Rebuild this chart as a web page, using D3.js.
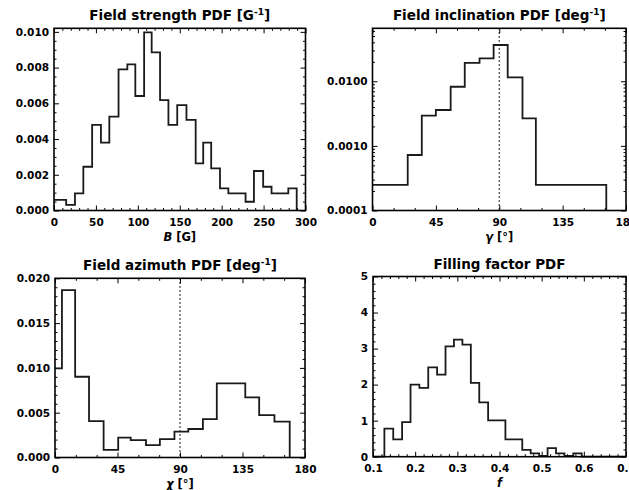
<!DOCTYPE html>
<html>
<head>
<meta charset="utf-8">
<script src="https://cdn.jsdelivr.net/npm/d3@7"></script>
<style>
  html, body { margin: 0; padding: 0; background: #fff; }
  svg { display: block; }
</style>
</head>
<body>
<script>
// ---- Field strength PDF (bin edges in G, density in G^-1)
const strengthEdges = [0, 14.5, 25, 35, 45.5, 56, 66, 77, 87.5, 97, 107.5, 116.5, 126.5, 136.5, 147,
  158, 169, 178, 187.5, 198, 208, 218.5, 228.5, 238.5, 249.5, 259.5, 269.5, 279.5, 289.5];
const strengthPdf = [0.00059, 0.00031, 0.00096, 0.00245, 0.00479, 0.0038, 0.00525, 0.0079, 0.00818, 0.00641,
  0.00997, 0.00885, 0.00618, 0.00479, 0.0059, 0.00507, 0.00264, 0.0038, 0.00236, 0.00124,
  0.00096, 0.00096, 0.00049, 0.00221, 0.00133, 0.00096, 0.00096, 0.00124];
const strengthXTicks = [0, 50, 100, 150, 200, 250, 300];
const strengthYTicks = [0, 0.002, 0.004, 0.006, 0.008, 0.010];

// ---- Field inclination PDF (bin edges in deg, density in deg^-1, log axis)
const inclinationEdges = [0, 25, 35, 45, 55.5, 65.5, 76, 86, 96, 106.5, 116, 166];
const inclinationPdf = [0.000249, 0.000723, 0.00293, 0.00359, 0.00822, 0.0193, 0.0226, 0.0364, 0.0115, 0.00267, 0.000249];
const inclinationXTicks = [0, 45, 90, 135, 180];
const inclinationYTicks = [0.0001, 0.001, 0.01];

// ---- Field azimuth PDF (bin edges in deg, density in deg^-1)
const azimuthEdges = [0, 5, 14.5, 24.5, 35, 45.5, 54.5, 65.5, 75.5, 86, 96, 106.5, 116.5, 126.5, 137, 147, 158, 169];
const azimuthPdf = [0.00994, 0.01868, 0.00901, 0.00407, 0.00084, 0.00221, 0.00195, 0.00139, 0.00206, 0.00288,
  0.00318, 0.00429, 0.00827, 0.00827, 0.00671, 0.00474, 0.004];
const azimuthXTicks = [0, 45, 90, 135, 180];
const azimuthYTicks = [0, 0.005, 0.010, 0.015, 0.020];

// ---- Filling factor PDF
const fillingEdges = [0.1, 0.127, 0.148, 0.169, 0.189, 0.21, 0.231, 0.252, 0.272, 0.292, 0.312, 0.332, 0.352,
  0.373, 0.393, 0.414, 0.434, 0.454, 0.474, 0.494, 0.514, 0.534, 0.554, 0.575, 0.595, 0.7];
const fillingPdf = [0, 0.78, 0.48, 0.96, 2.0, 1.91, 2.48, 2.28, 3.06, 3.25, 3.11, 2.05, 1.51, 1.01, 1.01,
  0.48, 0.48, 0.19, 0.09, 0.02, 0.24, 0.09, 0.02, 0.09, 0];
const fillingXTicks = [0.1, 0.2, 0.3, 0.4, 0.5, 0.6, 0.7];
const fillingYTicks = [0, 1, 2, 3, 4, 5];

const W = 629, H = 490;
const FONT = "'DejaVu Sans', sans-serif";

const svg = d3.select("body").append("svg")
  .attr("width", W).attr("height", H)
  .attr("viewBox", `0 0 ${W} ${H}`);
svg.append("rect").attr("width", W).attr("height", H).attr("fill", "#fff");

// evenly spaced minor tick values, skipping the major positions
function minorRange(lo, hi, step, majors) {
  const out = [];
  const n = Math.round((hi - lo) / step);
  for (let i = 0; i <= n; i++) {
    const v = +(lo + i * step).toFixed(8);
    if (!majors.some(m => Math.abs(m - v) < step * 1e-3)) out.push(v);
  }
  return out;
}
function logMinor(lo, hi) {
  const out = [];
  for (let e = Math.floor(Math.log10(lo)); e <= Math.ceil(Math.log10(hi)); e++) {
    for (let k = 2; k <= 9; k++) {
      const v = k * Math.pow(10, e);
      if (v > lo && v < hi) out.push(v);
    }
  }
  return out;
}

function panel(cfg) {
  const { box } = cfg;
  const g = svg.append("g");
  const x = d3.scaleLinear().domain(cfg.xDomain).range([box.x0, box.x1]);
  const y = (cfg.log ? d3.scaleLog() : d3.scaleLinear()).domain(cfg.yDomain).range([box.y1, box.y0]);

  const style = sel => {
    sel.select(".domain").remove();
    sel.attr("font-family", FONT).attr("font-size", 10.5).attr("font-weight", "bold");
    sel.selectAll(".tick line").attr("stroke", "#000").attr("stroke-width", 1);
    sel.selectAll(".tick text").attr("fill", "#000");
  };
  const MAJ = 5, MIN = 2.5;

  // bottom / top axes
  g.append("g").attr("transform", `translate(0,${box.y1})`)
    .call(d3.axisBottom(x).tickValues(cfg.xTicks).tickSize(-MAJ).tickSizeOuter(0).tickPadding(8).tickFormat(cfg.xFmt)).call(style);
  g.append("g").attr("transform", `translate(0,${box.y1})`)
    .call(d3.axisBottom(x).tickValues(cfg.xMinor).tickSize(-MIN).tickSizeOuter(0).tickFormat("")).call(style);
  g.append("g").attr("transform", `translate(0,${box.y0})`)
    .call(d3.axisTop(x).tickValues(cfg.xTicks).tickSize(-MAJ).tickSizeOuter(0).tickFormat("")).call(style);
  g.append("g").attr("transform", `translate(0,${box.y0})`)
    .call(d3.axisTop(x).tickValues(cfg.xMinor).tickSize(-MIN).tickSizeOuter(0).tickFormat("")).call(style);

  // left / right axes
  g.append("g").attr("transform", `translate(${box.x0},0)`)
    .call(d3.axisLeft(y).tickValues(cfg.yTicks).tickSize(-MAJ).tickSizeOuter(0).tickPadding(5).tickFormat(cfg.yFmt)).call(style);
  g.append("g").attr("transform", `translate(${box.x0},0)`)
    .call(d3.axisLeft(y).tickValues(cfg.yMinor).tickSize(-MIN).tickSizeOuter(0).tickFormat("")).call(style);
  g.append("g").attr("transform", `translate(${box.x1},0)`)
    .call(d3.axisRight(y).tickValues(cfg.yTicks).tickSize(-MAJ).tickSizeOuter(0).tickFormat("")).call(style);
  g.append("g").attr("transform", `translate(${box.x1},0)`)
    .call(d3.axisRight(y).tickValues(cfg.yMinor).tickSize(-MIN).tickSizeOuter(0).tickFormat("")).call(style);

  // reference line
  if (cfg.refX !== undefined) {
    g.append("line")
      .attr("x1", x(cfg.refX)).attr("x2", x(cfg.refX))
      .attr("y1", box.y0).attr("y2", box.y1)
      .attr("stroke", "#000").attr("stroke-width", 1.2)
      .attr("stroke-dasharray", "1.5,2.5");
  }

  // histogram outline
  const e = cfg.edges, v = cfg.values;
  const base = cfg.yDomain[0];
  const pts = v.map((d, i) => [e[i], d]);
  pts.push([e[e.length - 1], v[v.length - 1]]);
  pts.push([e[e.length - 1], base]);
  const line = d3.line().x(d => x(d[0])).y(d => y(Math.max(d[1], base))).curve(d3.curveStepAfter);
  g.append("path").attr("d", line(pts))
    .attr("fill", "none").attr("stroke", "#1a1a1a").attr("stroke-width", 1.8)
    .attr("stroke-linejoin", "miter");

  // frame
  g.append("rect")
    .attr("x", box.x0).attr("y", box.y0)
    .attr("width", box.x1 - box.x0).attr("height", box.y1 - box.y0)
    .attr("fill", "none").attr("stroke", "#000").attr("stroke-width", 1.6);

  // title with optional superscript
  const cx = (box.x0 + box.x1) / 2;
  const t = g.append("text").attr("x", cx).attr("y", box.y0 - 8)
    .attr("text-anchor", "middle").attr("font-family", FONT)
    .attr("font-size", 13.5).attr("font-weight", "bold").attr("fill", "#000");
  t.append("tspan").text(cfg.title[0]);
  if (cfg.title.length > 1) {
    t.append("tspan").attr("dy", -5).attr("font-size", 9).text(cfg.title[1]);
    t.append("tspan").attr("dy", 5).text(cfg.title[2]);
  }

  // x axis label
  const xl = g.append("text").attr("x", cx).attr("y", box.y1 + 30)
    .attr("text-anchor", "middle").attr("font-family", FONT)
    .attr("font-size", 11.5).attr("font-weight", "bold").attr("fill", "#000");
  xl.append("tspan").attr("font-style", "italic").text(cfg.xLabel[0]);
  if (cfg.xLabel[1]) xl.append("tspan").text(cfg.xLabel[1]);
}

panel({
  box: { x0: 54, x1: 305.5, y0: 28.3, y1: 210.5 },
  xDomain: [0, 300], yDomain: [0, 0.0102],
  edges: strengthEdges, values: strengthPdf,
  xTicks: strengthXTicks, xMinor: minorRange(0, 300, 10, strengthXTicks),
  yTicks: strengthYTicks, yMinor: minorRange(0, 0.010, 0.0005, strengthYTicks),
  xFmt: d3.format("d"), yFmt: d3.format(".3f"),
  title: ["Field strength PDF [G", "-1", "]"], xLabel: ["B", " [G]"]
});

panel({
  box: { x0: 372.5, x1: 626, y0: 28.3, y1: 210.5 },
  xDomain: [0, 180], yDomain: [0.0001, 0.066], log: true,
  edges: inclinationEdges, values: inclinationPdf,
  xTicks: inclinationXTicks, xMinor: minorRange(0, 180, 15, inclinationXTicks),
  yTicks: inclinationYTicks, yMinor: logMinor(0.0001, 0.066),
  xFmt: d3.format("d"), yFmt: d3.format(".4f"), refX: 90,
  title: ["Field inclination PDF [deg", "-1", "]"], xLabel: ["γ", " [°]"]
});

panel({
  box: { x0: 55, x1: 305, y0: 278.3, y1: 457.5 },
  xDomain: [0, 180], yDomain: [0, 0.020],
  edges: azimuthEdges, values: azimuthPdf,
  xTicks: azimuthXTicks, xMinor: minorRange(0, 180, 15, azimuthXTicks),
  yTicks: azimuthYTicks, yMinor: minorRange(0, 0.020, 0.001, azimuthYTicks),
  xFmt: d3.format("d"), yFmt: d3.format(".3f"), refX: 90,
  title: ["Field azimuth PDF [deg", "-1", "]"], xLabel: ["χ", " [°]"]
});

panel({
  box: { x0: 373, x1: 626, y0: 276.5, y1: 456.7 },
  xDomain: [0.1, 0.7], yDomain: [0, 5],
  edges: fillingEdges, values: fillingPdf,
  xTicks: fillingXTicks, xMinor: minorRange(0.1, 0.7, 0.02, fillingXTicks),
  yTicks: fillingYTicks, yMinor: minorRange(0, 5, 0.2, fillingYTicks),
  xFmt: d3.format(".1f"), yFmt: d3.format("d"),
  title: ["Filling factor PDF"], xLabel: ["f"]
});
</script>
</body>
</html>
